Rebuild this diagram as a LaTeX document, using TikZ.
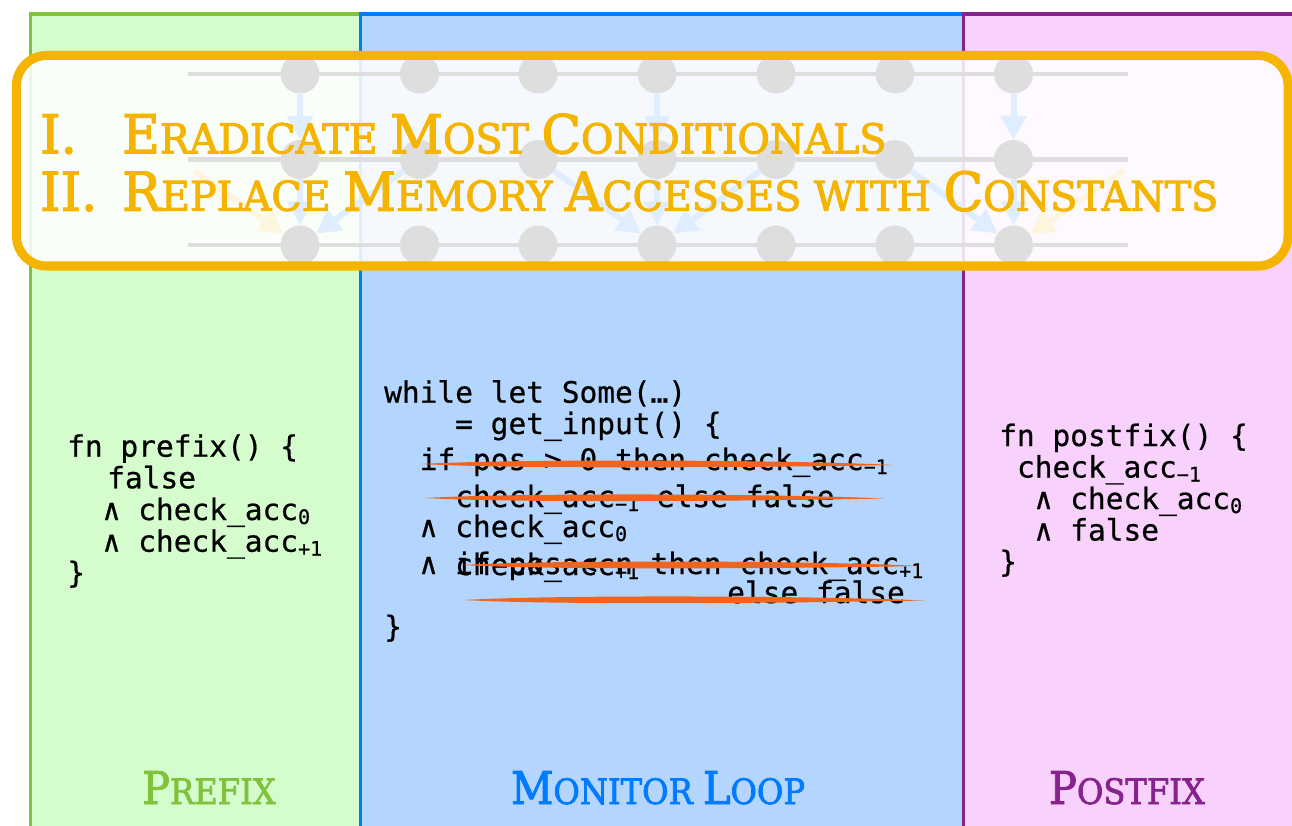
\documentclass[tikz,border=0pt]{standalone}
\usepackage{fontspec}
\setmainfont{DejaVu Serif}
\newfontfamily\codefont{DejaVu Sans Mono}[FakeBold=0.6]
\newfontfamily\slabfont{DejaVu Serif}[FakeStretch=0.965, FakeBold=2.4]
\newfontfamily\labelfont{DejaVu Serif}[FakeStretch=0.92, FakeBold=2]
\usetikzlibrary{arrows.meta}

\definecolor{prefixfill}{RGB}{212,252,204}
\definecolor{prefixline}{RGB}{128,195,58}
\definecolor{loopfill}{RGB}{180,214,254}
\definecolor{loopline}{RGB}{0,122,255}
\definecolor{postfill}{RGB}{248,210,252}
\definecolor{postline}{RGB}{135,35,140}
\definecolor{goal}{RGB}{244,180,0}
\definecolor{strikec}{RGB}{240,100,30}

% small-caps look: first letters set larger
\newcommand\Tc[1]{{\fontsize{53.5pt}{60pt}\selectfont #1}}
\newcommand\Lc[1]{{\fontsize{45pt}{50pt}\selectfont #1}}
% subscript index in code
\newcommand\ix[1]{{\fontsize{20pt}{20pt}\selectfont\raisebox{-4pt}{#1}}}

\tikzset{
  panel/.style={line width=3.5pt},
  dep/.style={circle, fill=black, inner sep=0pt, minimum size=39pt},
  rail/.style={black, line width=4.5pt},
  arr/.style={loopline, line width=6pt, -{Triangle[length=24pt,width=25pt]}},
  arrin/.style={arr, goal},
  goalbox/.style={draw=goal, line width=9pt, rounded corners=30pt, fill=white, fill opacity=0.87},
  title/.style={anchor=base west, inner sep=0pt, text=goal, font=\slabfont\fontsize{41pt}{48pt}\selectfont},
  plabel/.style={anchor=base, inner sep=0pt, font=\labelfont\fontsize{35pt}{40pt}\selectfont},
  code/.style={anchor=base west, inner sep=0pt, font=\codefont\fontsize{29.5pt}{33pt}\selectfont},
}

\begin{document}
\begin{tikzpicture}[x=1pt, y=-1pt]
\useasboundingbox (0,0) rectangle (1292,826);
\clip (0,0) rectangle (1292,826);

% three phases
\filldraw[panel, fill=prefixfill, draw=prefixline] (30.7,14) rectangle (360.7,860);
\filldraw[panel, fill=loopfill, draw=loopline] (360.7,14) rectangle (963.5,860);
\filldraw[panel, fill=postfill, draw=postline] (963.5,14) rectangle (1320,860);

% dependency graph
\foreach \r/\y in {1/74, 2/159.5, 3/245} {
  \coordinate (ls\r) at (188,\y);
  \coordinate (le\r) at (1128,\y);
  \draw[rail] (ls\r) -- (le\r);
  \foreach \c/\x in {1/300, 2/419.5, 3/538, 4/657, 5/776, 6/895, 7/1013.5}
    \node[dep] (g\r\c) at (\x,\y) {};
}
\draw[arr] (g11) -- (g21);
\draw[arr] (g21) -- (g31);
\draw[arr] (g14) -- (g24);
\draw[arr] (g24) -- (g34);
\draw[arr] (g17) -- (g27);
\draw[arr] (g27) -- (g37);
\draw[arr] (g22) -- (g31);
\draw[arr] (g23) -- (g34);
\draw[arr] (g25) -- (g34);
\draw[arr] (g26) -- (g37);
\coordinate (inL) at (194,171);
\coordinate (inR) at (1124,171);
\draw[arrin] (inL) -- (g31);
\draw[arrin] (inR) -- (g37);

% goals
\path[goalbox] (16.5,55.5) rectangle (1288,266);
\node[title] (n1) at (40,153.3) {\Tc{I.}};
\node[title] (t1) at (122,153.3) {\Tc{E}RADICATE \Tc{M}OST \Tc{C}ONDITIONALS};
\node[title] (n2) at (40,210.7) {\Tc{II.}};
\node[title] (t2) at (122,210.7) {\Tc{R}EPLACE \Tc{M}EMORY \Tc{A}CCESSES WITH \Tc{C}ONSTANTS};

% prefix code
\node[code] (p1) at (67,456.7) {fn prefix() \{};
\node[code] (p2) at (107,488.3) {false};
\node[code] (p3) at (102.5,520) {∧ check\_acc\ix{0}};
\node[code] (p4) at (102.5,551.7) {∧ check\_acc\ix{+1}};
\node[code] (p5) at (67,583) {\}};

% monitor loop code
\node[code] (m1) at (384,402.7) {while let Some(…)};
\node[code] (m2) at (455,434) {= get\_input() \{};
\node[code] (m3) at (419.5,470) {if pos > 0 then check\_acc\ix{−1}};
\node[code] (m4) at (455,507) {check\_acc\ix{−1} else false};
\node[code] (m5) at (419.5,537) {∧ check\_acc\ix{0}};
\node[code] (m6) at (419.5,574) {∧ if pos < n then check\_acc\ix{+1}};
\node[code] (m6b) at (455,575) {check\_acc\ix{+1}};
\node[code] (m7) at (727,603) {else false};
\node[code] (m8) at (384,637) {\}};

% struck-out bounds checks
\fill[strikec] (421,464) .. controls (520,458.5) and (800,460) .. (893,465) .. controls (800,467) and (520,469.5) .. cycle;
\fill[strikec] (425,498) .. controls (520,492.5) and (790,494) .. (883,498.5) .. controls (790,500.5) and (520,503.5) .. cycle;
\fill[strikec] (462,565) .. controls (560,559.5) and (830,561) .. (919,566) .. controls (830,568) and (560,570.5) .. cycle;
\fill[strikec] (464,600) .. controls (560,594.5) and (830,596) .. (924,600.5) .. controls (830,602.5) and (560,605.5) .. cycle;

% postfix code
\node[code] (q1) at (999,446) {fn postfix() \{};
\node[code] (q2) at (1016.8,477.5) {check\_acc\ix{−1}};
\node[code] (q3) at (1034.5,509) {∧ check\_acc\ix{0}};
\node[code] (q4) at (1034.5,540.5) {∧ false};
\node[code] (q5) at (999,572) {\}};

% phase labels
\node[plabel, text=prefixline] (lp) at (209,804) {\Lc{P}REFIX};
\node[plabel, text=loopline] (ll) at (658,804) {\Lc{M}ONITOR \Lc{L}OOP};
\node[plabel, text=postline] (lq) at (1127,804) {\Lc{P}OSTFIX};
\end{tikzpicture}
\end{document}
